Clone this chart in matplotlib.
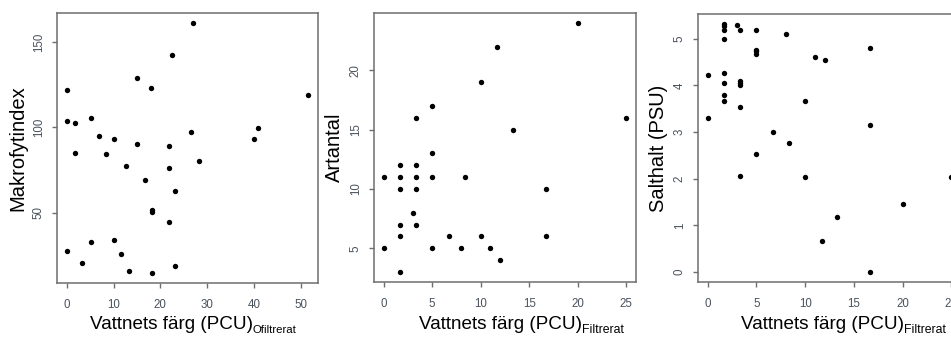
import matplotlib
matplotlib.use("Agg")
import matplotlib.pyplot as plt

plt.rcParams['font.family'] = ['Liberation Sans', 'DejaVu Sans']

# Panel 1: Makrofytindex vs unfiltered colour
p1_x = [26.9, 22.5, 15.0, 18.1, 0.1, 51.6, 0.0, 1.7, 5.1, 26.6, 40.9, 39.9, 6.9, 10.1,
        15.0, 21.8, 1.8, 8.4, 28.3, 12.6, 21.8, 16.8, 23.2, 18.3, 18.3, 21.8, 10.1, 5.1,
        0.0, 11.7, 3.3, 23.2, 13.4, 18.3]
p1_y = [161.1, 142.2, 128.9, 123.0, 121.9, 119.1, 103.9, 102.3, 105.7, 97.1, 99.8, 93.4,
        94.7, 93.0, 90.0, 88.9, 85.2, 84.4, 80.5, 77.3, 76.2, 69.1, 62.5, 51.4, 50.4, 44.5,
        34.2, 33.0, 27.5, 26.2, 20.7, 18.8, 16.2, 14.8]

# Panel 2: Artantal vs filtered colour
p2_x = [20.0, 11.7, 10.0, 5.0, 3.3, 25.0, 13.3, 5.0, 1.7, 3.3, 0.0, 1.7, 3.3, 5.0, 8.4,
        1.7, 3.3, 16.7, 3.0, 1.7, 3.3, 1.7, 6.7, 10.0, 16.7, 0.0, 5.0, 8.0, 11.0, 12.0, 1.7]
p2_y = [24, 22, 19, 17, 16, 16, 15, 13, 12, 12, 11, 11, 11, 11, 11,
        10, 10, 10, 8, 7, 7, 6, 6, 6, 6, 5, 5, 5, 5, 4, 3]

# Panel 3: Salthalt vs filtered colour
p3_x = [1.7, 1.7, 1.7, 3.0, 3.3, 5.0, 8.0, 1.7, 16.7, 5.0, 5.0, 5.0, 11.0, 12.0, 0.0,
        1.7, 1.7, 3.3, 3.3, 3.3, 1.7, 1.7, 10.0, 3.3, 0.0, 6.7, 16.7, 8.3, 5.0, 3.3,
        10.0, 25.0, 20.0, 13.3, 11.7, 16.7]
p3_y = [5.32, 5.27, 5.19, 5.29, 5.19, 5.19, 5.11, 5.00, 4.80, 4.77, 4.73, 4.68, 4.62, 4.54,
        4.22, 4.26, 4.06, 4.09, 4.05, 4.01, 3.79, 3.66, 3.66, 3.54, 3.31, 3.01, 3.15, 2.77,
        2.54, 2.07, 2.03, 2.03, 1.46, 1.19, 0.66, 0.00]

xlabel_main = 'Vattnets färg (PCU)'

panels = [
    dict(x=p1_x, y=p1_y, ylabel='Makrofytindex', sub='Ofiltrerat', subsize=8.2,
         xticks=[0, 10, 20, 30, 40, 50], yticks=[50, 100, 150],
         box=(57, 318, 13, 283), xlab_start=0.126),
    dict(x=p2_x, y=p2_y, ylabel='Artantal', sub='Filtrerat', subsize=8.8,
         xticks=[0, 5, 10, 15, 20, 25], yticks=[5, 10, 15, 20],
         box=(374, 636, 13, 282), xlab_start=0.172),
    dict(x=p3_x, y=p3_y, ylabel='Salthalt (PSU)', sub='Filtrerat', subsize=8.8,
         xticks=[0, 5, 10, 15, 20, 25], yticks=[0, 1, 2, 3, 4, 5],
         box=(698, 961, 14, 282), xlab_start=0.165),
]

W, H = 951, 341
fig = plt.figure(figsize=(W / 100, H / 100), dpi=100)
frame_col = '#6e6e6e'
tick_col = '#4a525c'

for p in panels:
    l, r, t, b = p['box']
    ax = fig.add_axes([l / W, 1 - b / H, (r - l) / W, (b - t) / H])
    ax.scatter(p['x'], p['y'], s=15, c='black', linewidths=0, zorder=3)
    ax.margins(x=0.04, y=0.04)
    ax.set_xticks(p['xticks'])
    ax.set_yticks(p['yticks'])
    for sp in ax.spines.values():
        sp.set_color(frame_col)
        sp.set_linewidth(1.1)
    ax.tick_params(axis='both', direction='out', length=3.8, width=1.0,
                   color=frame_col, labelcolor=tick_col, labelsize=8.3)
    ax.tick_params(axis='x', pad=8)
    ax.tick_params(axis='y', pad=5)
    for lab in ax.get_yticklabels():
        lab.set_rotation(90)
        lab.set_va('center')
    ax.set_ylabel(p['ylabel'], fontsize=14.5, labelpad=4)

    base = 329 - b  # pixels below axes bottom to the label baseline
    main = ax.annotate(xlabel_main, xy=(p['xlab_start'], 0), xycoords='axes fraction',
                       xytext=(0, -base), textcoords='offset pixels',
                       ha='left', va='baseline', fontsize=13.6, annotation_clip=False)
    ax.annotate(p['sub'], xy=(1, 0), xycoords=(main, 'axes fraction'),
                xytext=(0, -base - 4), textcoords='offset pixels',
                ha='left', va='baseline', fontsize=p['subsize'], annotation_clip=False)

fig.savefig('out.png', dpi=100)
